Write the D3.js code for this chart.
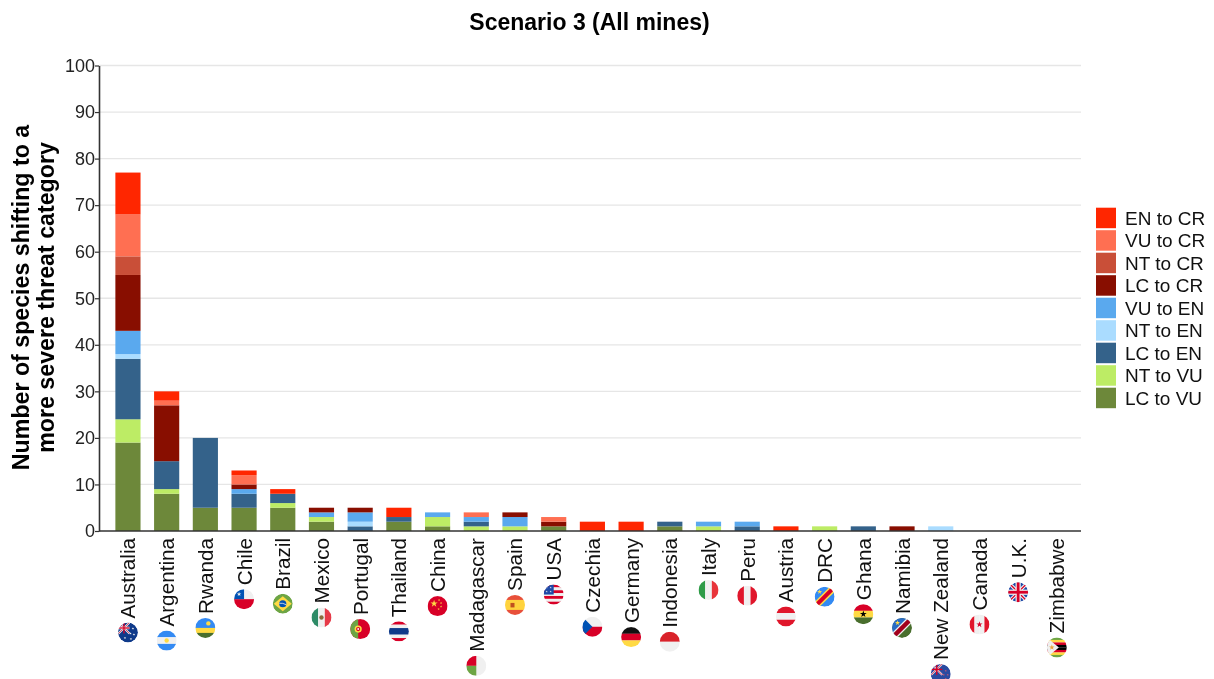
<!DOCTYPE html>
<html><head><meta charset="utf-8">
<script src="https://cdn.jsdelivr.net/npm/d3@7"></script>
<style>html,body{margin:0;padding:0;background:#fff}svg{display:block;font-family:"Liberation Sans",Arial,sans-serif;filter:blur(.35px)}</style>
</head><body><div id="chart"></div>
<script>
const countries=["Australia","Argentina","Rwanda","Chile","Brazil","Mexico","Portugal","Thailand","China","Madagascar","Spain","USA","Czechia","Germany","Indonesia","Italy","Peru","Austria","DRC","Ghana","Namibia","New Zealand","Canada","U.K.","Zimbabwe"];
const seriesNames=["LC to VU","NT to VU","LC to EN","NT to EN","VU to EN","LC to CR","NT to CR","VU to CR","EN to CR"];
const seriesColors=["#6d883a","#bdec65","#34628a","#aadcff","#5aa9ee","#880e00","#c94f38","#ff6f52","#ff2600"];
const lcVu=[19,8,5,5,5,2,0,2,1,0,0,1,0,0,1,0,0,0,0,0,0,0,0,0,0];
const ntVu=[5,1,0,0,1,1,0,0,2,1,1,0,0,0,0,1,0,0,1,0,0,0,0,0,0];
const lcEn=[13,6,15,3,2,0,1,1,0,1,0,0,0,0,1,0,1,0,0,1,0,0,0,0,0];
const ntEn=[1,0,0,0,0,0,1,0,0,0,0,0,0,0,0,0,0,0,0,0,0,1,0,0,0];
const vuEn=[5,0,0,1,0,1,2,0,1,1,2,0,0,0,0,1,1,0,0,0,0,0,0,0,0];
const lcCr=[12,12,0,1,0,1,1,0,0,0,1,1,0,0,0,0,0,0,0,0,1,0,0,0,0];
const ntCr=[4,0,0,0,0,0,0,0,0,0,0,0,0,0,0,0,0,0,0,0,0,0,0,0,0];
const vuCr=[9,1,0,2,0,0,0,0,0,1,0,1,0,0,0,0,0,0,0,0,0,0,0,0,0];
const enCr=[9,2,0,1,1,0,0,2,0,0,0,0,2,2,0,0,0,1,0,0,0,0,0,0,0];
const yTicks=[0,10,20,30,40,50,60,70,80,90,100];
const seriesValues=[lcVu,ntVu,lcEn,ntEn,vuEn,lcCr,ntCr,vuCr,enCr];
const table=countries.map((c,i)=>{const o={country:c};seriesNames.forEach((s,j)=>o[s]=seriesValues[j][i]);return o;});

const W=1214,H=679;
const svg=d3.select("#chart").append("svg").attr("width",W).attr("height",H);
const x=d3.scaleBand().domain(countries).range([108.6,1076.2]).paddingInner(.35).paddingOuter(.175);
const y=d3.scaleLinear().domain([0,100]).range([531,65.5]);
const color=d3.scaleOrdinal(seriesNames,seriesColors);

svg.append("text").attr("x",589.5).attr("y",30).attr("text-anchor","middle").attr("font-size",23).attr("font-weight","bold").text("Scenario 3 (All mines)");

svg.append("g").selectAll("line").data(yTicks.slice(1)).join("line")
 .attr("x1",99).attr("x2",1081).attr("y1",d=>y(d)).attr("y2",d=>y(d)).attr("stroke","#e6e6e6").attr("stroke-width",1.3);
const gy=svg.append("g").attr("transform","translate(99,0)").call(d3.axisLeft(y).tickValues(yTicks).tickSize(4).tickPadding(0).tickSizeOuter(0));
gy.select(".domain").attr("stroke","#333").attr("stroke-width",1.6);
gy.selectAll(".tick line").attr("stroke","#333").attr("stroke-width",1.2);
gy.selectAll("text").attr("font-size",18).attr("font-family","Liberation Sans").attr("fill","#222");

const stack=d3.stack().keys(seriesNames)(table);
svg.append("g").selectAll("g").data(stack).join("g").attr("fill",d=>color(d.key))
 .selectAll("rect").data(d=>d.filter(p=>p[1]>p[0])).join("rect")
 .attr("x",d=>x(d.data.country)).attr("width",x.bandwidth())
 .attr("y",d=>y(d[1])).attr("height",d=>y(d[0])-y(d[1]));

svg.append("line").attr("x1",99).attr("x2",1081).attr("y1",531).attr("y2",531).attr("stroke","#333").attr("stroke-width",1.4);

const ylab=svg.append("text").attr("transform","translate(0,297.5) rotate(-90)").attr("text-anchor","middle").attr("font-size",23.2).attr("font-weight","bold");
ylab.append("tspan").attr("x",0).attr("y",29).text("Number of species shifting to a");
ylab.append("tspan").attr("x",0).attr("y",53.5).text("more severe threat category");

const legendNames=seriesNames.slice().reverse();
const lg=svg.append("g").selectAll("g").data(legendNames).join("g").attr("transform",(d,i)=>`translate(1096,${207.7+i*22.5})`);
lg.append("rect").attr("width",20).attr("height",20.5).attr("fill",d=>color(d));
lg.append("text").attr("x",29).attr("y",17.3).attr("font-size",19).attr("fill","#111").text(d=>d);

// flags: drawn inside a circle of radius 10
const defs=svg.append("defs");
defs.append("clipPath").attr("id","flagClip").append("circle").attr("r",10);
const W_="#f0f0f0",R="#d80027",G="#6da544",Y="#ffda44",K="#000";
const hb=(g,cols)=>{const h=20/cols.length;cols.forEach((c,i)=>g.append("rect").attr("x",-10).attr("y",-10+i*h).attr("width",20).attr("height",h+.1).attr("fill",c));};
const vb=(g,cols)=>{const w=20/cols.length;cols.forEach((c,i)=>g.append("rect").attr("y",-10).attr("x",-10+i*w).attr("height",20).attr("width",w+.1).attr("fill",c));};
const hbw=(g,list)=>{let t=-10;list.forEach(([c,h])=>{g.append("rect").attr("x",-10).attr("y",t).attr("width",20).attr("height",h+.1).attr("fill",c);t+=h;});};
const rect=(g,x0,y0,w,h,c)=>g.append("rect").attr("x",x0).attr("y",y0).attr("width",w).attr("height",h).attr("fill",c);
const circ=(g,cx,cy,r,c)=>g.append("circle").attr("cx",cx).attr("cy",cy).attr("r",r).attr("fill",c);
const path=(g,d,c,sw)=>g.append("path").attr("d",d).attr("fill",sw?"none":c).attr("stroke",sw?c:"none").attr("stroke-width",sw||0);
const star=(g,cx,cy,r,c)=>g.append("path").attr("transform",`translate(${cx},${cy})`).attr("d",d3.symbol(d3.symbolStar,r*r*1.6)()).attr("fill",c);
const uk=(g)=>{circ(g,0,0,10,"#1f4aa8");path(g,"M-10-10L10 10M10-10L-10 10",W_,3.5);path(g,"M-10-10L10 10M10-10L-10 10",R,1.3);rect(g,-10,-2.6,20,5.2,W_);rect(g,-2.6,-10,5.2,20,W_);rect(g,-10,-1.4,20,2.8,R);rect(g,-1.4,-10,2.8,20,R);};
const flagDraw={
"Australia":g=>{circ(g,0,0,10,"#0f3a8a");const u=g.append("g").attr("transform","translate(-4,-4.5) scale(.55)");path(u,"M-10-10L10 10M10-10L-10 10",W_,3.5);path(u,"M-10-10L10 10M10-10L-10 10",R,1.3);rect(u,-10,-2.4,20,4.8,W_);rect(u,-10,-1.2,20,2.4,R);rect(u,-1.2,-10,2.4,20,R);[[5,-4],[2.5,1],[6,2],[-3,5.5],[3,6.5]].forEach(p=>star(g,p[0],p[1],1.1,W_));},
"Argentina":g=>{hb(g,["#338af3",W_,"#338af3"]);circ(g,0,0,2.2,"#ffda44");},
"Rwanda":g=>{hbw(g,[["#338af3",10],["#ffda44",5],["#496e2d",5]]);circ(g,3,-4.5,2.2,"#ffda44");},
"Chile":g=>{hb(g,[W_,R]);rect(g,-10,-10,10,10,"#0052b4");star(g,-5,-5,2,W_);},
"Brazil":g=>{circ(g,0,0,10,G);path(g,"M0-7.5L9 0L0 7.5L-9 0Z",Y);circ(g,0,0,3.6,"#0052b4");path(g,"M-3.5-.5Q0-1 3.5 1",W_,.8);},
"Mexico":g=>{vb(g,["#2e8b67",W_,"#e63a48"]);circ(g,0,0,2.2,"#8a6b3c");},
"Portugal":g=>{rect(g,-10,-10,20,20,R);rect(g,-10,-10,8,20,G);circ(g,-2,0,3.6,Y);circ(g,-2,0,2.1,R);circ(g,-2,0,1,W_);},
"Thailand":g=>{hbw(g,[[R,3.3],[W_,3.4],["#0f3a8a",6.6],[W_,3.4],[R,3.3]]);},
"China":g=>{rect(g,-10,-10,20,20,R);star(g,-3.5,-2.5,3.2,Y);[[1.5,-6],[3.5,-3],[3.5,.5],[1,3]].forEach(p=>star(g,p[0],p[1],1.1,Y));},
"Madagascar":g=>{rect(g,-10,-10,20,20,W_);rect(g,-10,-10,10,10,R);rect(g,-10,0,10,10,G);},
"Spain":g=>{hbw(g,[["#e8503a",5],["#ffd33d",10],["#e8503a",5]]);rect(g,-4.5,-2,4,4.5,"#c0501f");},
"USA":g=>{hb(g,[W_,R,W_,R,W_,R,W_].map((c,i)=>i%2?W_:R));rect(g,-10,-10,10,10,"#1f4aa8");[[-7,-7],[-3,-7],[-7,-3],[-3,-3]].forEach(p=>star(g,p[0],p[1],.9,W_));},
"Czechia":g=>{hb(g,[W_,R]);path(g,"M-10-10L0 0L-10 10Z","#0052b4");},
"Germany":g=>{hb(g,["#111",R,Y]);},
"Indonesia":g=>{hb(g,["#d9222a",W_]);},
"Italy":g=>{vb(g,["#2e9b47",W_,"#e8343a"]);},
"Peru":g=>{vb(g,["#e0162b",W_,"#e0162b"]);},
"Austria":g=>{hb(g,["#e0162b",W_,"#e0162b"]);},
"DRC":g=>{circ(g,0,0,10,"#338af3");path(g,"M-10 10L10-10",Y,7);path(g,"M-10 10L10-10","#d80027",4);star(g,-5,-5,2.2,Y);},
"Ghana":g=>{hb(g,[R,Y,"#496e2d"]);star(g,0,0,3,K);},
"Namibia":g=>{circ(g,0,0,10,"#496e2d");path(g,"M-10-10H10L-10 10Z","#2a6cc4");path(g,"M-10 10L10-10",W_,7);path(g,"M-10 10L10-10","#a2001d",4.4);star(g,-4.5,-5,2.2,Y);},
"New Zealand":g=>{circ(g,0,0,10,"#2a4aa0");const u=g.append("g").attr("transform","translate(-4,-4.5) scale(.55)");path(u,"M-10-10L10 10M10-10L-10 10",W_,3.5);path(u,"M-10-10L10 10M10-10L-10 10",R,1.3);rect(u,-1.2,-10,2.4,20,R);rect(u,-10,-1.2,20,2.4,R);[[5,-3],[3,1],[7,1],[5,5]].forEach(p=>star(g,p[0],p[1],1,"#e05a6a"));},
"Canada":g=>{vb(g,["#e0162b",W_,W_,"#e0162b"]);star(g,0,0,2.8,"#d80027");},
"U.K.":uk,
"Zimbabwe":g=>{hb(g,["#6da544",Y,"#d80027",K,K,"#d80027",Y,"#6da544"]);path(g,"M-10-10L2 0L-10 10Z",W_);star(g,-5,0,2.4,"#e8a33a");}
};

const labY=538;
const lab=svg.append("g").selectAll("g").data(countries).join("g");
lab.append("text").attr("transform",d=>`translate(${x(d)+x.bandwidth()/2+7.5},${labY}) rotate(-90)`)
 .attr("text-anchor","end").attr("font-size",20.7).attr("fill","#111").text(d=>d);
lab.each(function(d){
 const t=d3.select(this).select("text").node().getComputedTextLength();
 const f=d3.select(this).append("g").attr("transform",`translate(${x(d)+x.bandwidth()/2},${labY+t+14})`);
 const inner=f.append("g").attr("clip-path","url(#flagClip)");
 flagDraw[d](inner);
});
</script></body></html>
